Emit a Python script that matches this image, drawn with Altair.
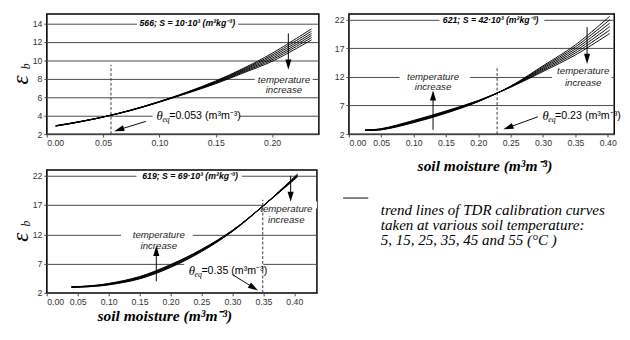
import math
import altair as alt
import pandas as pd

TEMPS = [5, 15, 25, 35, 45, 55]

# ---- panel 566 ----
x566 = [0.008, 0.025, 0.05, 0.075, 0.10, 0.125, 0.15, 0.175, 0.20, 0.235]
e566 = [
    [2.87, 3.22, 3.85, 4.62, 5.53, 6.57, 7.76, 9.15, 10.75, 13.40],
    [2.88, 3.23, 3.85, 4.61, 5.52, 6.55, 7.70, 9.05, 10.57, 13.15],
    [2.89, 3.24, 3.85, 4.60, 5.51, 6.52, 7.64, 8.95, 10.40, 12.90],
    [2.90, 3.25, 3.85, 4.59, 5.49, 6.49, 7.58, 8.85, 10.22, 12.68],
    [2.91, 3.26, 3.85, 4.58, 5.48, 6.46, 7.52, 8.75, 10.05, 12.45],
    [2.92, 3.27, 3.85, 4.57, 5.46, 6.43, 7.46, 8.65, 9.88, 12.20],
]

# ---- panel 621 ----
x621 = [0.025, 0.05, 0.10, 0.15, 0.20, 0.25, 0.30, 0.35, 0.403]
e621 = [
    [2.68, 2.75, 4.00, 5.65, 7.68, 10.40, 13.95, 17.60, 22.6],
    [2.69, 2.79, 4.08, 5.73, 7.72, 10.36, 13.75, 17.25, 22.0],
    [2.70, 2.83, 4.16, 5.81, 7.76, 10.32, 13.55, 16.90, 21.4],
    [2.70, 2.87, 4.24, 5.89, 7.80, 10.28, 13.35, 16.55, 20.8],
    [2.71, 2.91, 4.32, 5.97, 7.84, 10.24, 13.15, 16.20, 20.2],
    [2.72, 2.95, 4.40, 6.05, 7.88, 10.20, 12.95, 15.85, 19.6],
]

# ---- panel 619 ----
x619 = [0.04, 0.07, 0.10, 0.15, 0.20, 0.25, 0.30, 0.35, 0.405]
e619 = [
    [2.97, 3.07, 3.38, 4.40, 6.35, 9.05, 12.50, 16.90, 22.30],
    [2.98, 3.10, 3.43, 4.48, 6.45, 9.13, 12.54, 16.90, 22.20],
    [2.99, 3.13, 3.48, 4.56, 6.55, 9.21, 12.58, 16.90, 22.10],
    [3.01, 3.17, 3.52, 4.64, 6.65, 9.29, 12.62, 16.90, 22.00],
    [3.02, 3.20, 3.57, 4.72, 6.75, 9.37, 12.66, 16.90, 21.90],
    [3.03, 3.23, 3.62, 4.80, 6.85, 9.45, 12.70, 16.90, 21.80],
]

yticks566 = [2, 4, 6, 8, 10, 12, 14]
yticks62x = [2, 7, 12, 17, 22]
xticks566 = [0.00, 0.05, 0.10, 0.15, 0.20]
xticks62x = [0.00, 0.05, 0.10, 0.15, 0.20, 0.25, 0.30, 0.35, 0.40]

SUP = "(m\u00b3m\u207b\u00b3)"
XTITLE = "soil moisture " + SUP

ann566 = dict(
    label=("566; S = 10\u00b710\u00b3 (m\u00b2kg\u207b\u00b3)", 0.1247, 14.0),
    boxes=[(0.080, 0.170, 13.45, 14.55), (0.1845, 0.236, 7.4, 8.6), (0.094, 0.171, 3.3, 4.6)],
    temps=[(0.2105, 7.87, 6.8)],
    varrows=[(0.2144, 12.9, 9.0)],
    theq=("=0.053 " + SUP, 0.0975, 3.9),
    darrow=(0.088, 3.38, 0.060, 2.33),
    dashed=(0.057, 2.0, 9.5),
)
ann621 = dict(
    label=("621; S = 42\u00b710\u00b3 (m\u00b2kg\u207b\u00b3)", 0.219, 22.0),
    boxes=[(0.140, 0.302, 21.3, 22.7), (0.078, 0.187, 11.3, 12.7), (0.314, 0.406, 11.3, 12.7)],
    temps=[(0.130, 12.0, 10.2), (0.362, 12.96, 11.0)],
    varrows=[(0.130, 2.75, 9.6), (0.368, 20.7, 14.3)],
    theq=("=0.23 " + SUP, 0.299, 5.07),
    darrow=(0.292, 5.03, 0.239, 2.85),
    dashed=(0.229, 2.0, 13.9),
)
ann619 = dict(
    label=("619; S = 69\u00b710\u00b3 (m\u00b2kg\u207b\u00b3)", 0.2315, 22.0),
    boxes=[(0.145, 0.315, 21.3, 22.7), (0.120, 0.236, 11.3, 12.7), (0.351, 0.4365, 16.4, 17.6),
           (0.222, 0.350, 4.9, 7.6)],
    temps=[(0.181, 11.9, 10.0), (0.387, 16.3, 14.4)],
    varrows=[(0.177, 4.0, 10.0), (0.394, 22.0, 17.6)],
    theq=("=0.35 " + SUP, 0.2295, 5.74),
    darrow=(0.300, 5.13, 0.341, 2.45),
    dashed=(0.349, 2.0, 17.9),
)

LEGEND_LINES = [
    "trend lines of TDR calibration curves",
    "taken at various soil temperature:",
    "5, 15, 25, 35, 45 and 55 (\u00b0C )",
]

SANS = "Liberation Sans"
SERIF = "Liberation Serif"
HEAD = "M0,-1L0.6,1L-0.6,1Z"


def panel(xs, curves, xdom, ydom, xticks, yticks, w, h, ann, xtitle=None, ytitle=True, legend=False):
    sx = w / (xdom[1] - xdom[0])
    sy = h / (ydom[1] - ydom[0])
    axis_kw = dict(labelFont=SANS, labelFontSize=9, labelColor="#333", tickSize=3,
                   tickColor="#444", domainColor="#444", labelPadding=2)
    if xtitle:
        xaxis = alt.Axis(values=xticks, format=".2f", grid=False, title=xtitle[0],
                         titleFont=SERIF, titleFontSize=16, titleFontStyle="italic",
                         titleFontWeight="bold", titleColor="black", titleX=xtitle[1],
                         titleY=xtitle[2], titleBaseline="middle", titleAlign="center",
                         **axis_kw)
    else:
        xaxis = alt.Axis(values=xticks, format=".2f", grid=False, title=None, **axis_kw)
    yaxis = alt.Axis(values=yticks, format="d", grid=True, gridColor="#444", gridWidth=1,
                     title=None, **axis_kw)
    X = alt.X("x:Q", scale=alt.Scale(domain=xdom, nice=False, zero=False), axis=xaxis)
    Y = alt.Y("y:Q", scale=alt.Scale(domain=ydom, nice=False, zero=False), axis=yaxis)

    rows = []
    for t, ys in zip(TEMPS, curves):
        for xv, yv in zip(xs, ys):
            rows.append({"x": xv, "y": yv, "T": t})
    curve_df = pd.DataFrame(rows)

    layers = []
    boxes = pd.DataFrame([{"x": a, "x2": b, "y": c, "y2": d} for a, b, c, d in ann["boxes"]])
    layers.append(alt.Chart(boxes).mark_rect(color="white").encode(
        x=X, x2="x2:Q", y=Y, y2="y2:Q"))
    dx, dy0, dy1 = ann["dashed"]
    layers.append(alt.Chart(pd.DataFrame([{"x": dx, "y": dy0, "y2": dy1}])).mark_rule(
        color="#333", strokeDash=[3, 2], strokeWidth=1).encode(x=X, y=Y, y2="y2:Q"))
    layers.append(alt.Chart(curve_df).mark_line(color="black", strokeWidth=1,
                                                interpolate="catmull-rom").encode(
        x=X, y=Y, detail="T:N"))

    # arrows
    shafts, heads = [], []
    arrows = [(a, b, a, c) for a, b, c in ann["varrows"]] + [ann["darrow"]]
    for x1, y1, x2, y2 in arrows:
        pdx = (x2 - x1) * sx
        pdy = -(y2 - y1) * sy
        n = math.hypot(pdx, pdy)
        ux, uy = pdx / n, pdy / n
        hx = x2 - 5 * ux / sx
        hy = y2 + 5 * uy / sy
        ang = math.degrees(math.atan2(pdx, -pdy)) % 360
        shafts.append({"x": x1, "y": y1, "x2": hx, "y2": hy})
        heads.append({"x": hx, "y": hy, "ang": ang})
    layers.append(alt.Chart(pd.DataFrame(shafts)).mark_rule(color="black", strokeWidth=1).encode(
        x=X, y=Y, x2="x2:Q", y2="y2:Q"))
    layers.append(alt.Chart(pd.DataFrame(heads)).mark_point(
        shape=HEAD, filled=True, color="black", size=110, opacity=1).encode(
        x=X, y=Y, angle=alt.Angle("ang:Q", scale=None)))

    # label
    lt, lx, ly = ann["label"]
    layers.append(alt.Chart(pd.DataFrame([{"x": lx, "y": ly, "t": lt}])).mark_text(
        font=SANS, fontSize=9, fontStyle="italic", fontWeight="bold", color="black",
        align="center", baseline="middle").encode(x=X, y=Y, text="t:N"))
    # temperature increase
    trows = []
    for tx, y1, y2 in ann["temps"]:
        trows.append({"x": tx, "y": y1, "t": "temperature"})
        trows.append({"x": tx, "y": y2, "t": "increase"})
    layers.append(alt.Chart(pd.DataFrame(trows)).mark_text(
        font=SANS, fontSize=10, fontStyle="italic", color="#222",
        align="center", baseline="middle").encode(x=X, y=Y, text="t:N"))
    # theta eq
    qt, qx, qy = ann["theq"]
    qdf = pd.DataFrame([{"x": qx, "y": qy}])
    layers.append(alt.Chart(qdf).mark_text(text="\u03b8", font=SERIF, fontSize=13,
                                           fontStyle="italic", align="left",
                                           baseline="middle", color="black").encode(x=X, y=Y))
    layers.append(alt.Chart(qdf).mark_text(text="eq", font=SERIF, fontSize=8,
                                           fontStyle="italic", align="left", dx=6, dy=4,
                                           baseline="middle", color="black").encode(x=X, y=Y))
    layers.append(alt.Chart(qdf).mark_text(text=qt, font=SANS, fontSize=11,
                                           align="left", dx=13,
                                           baseline="middle", color="black").encode(x=X, y=Y))
    if ytitle:
        layers.append(alt.Chart(qdf).mark_text(text="\u03b5", font=SERIF, fontSize=24,
                                               fontStyle="italic", angle=270, align="center",
                                               baseline="middle", color="black").encode(
            x=alt.value(-26), y=alt.value(h / 2 + 6)))
        layers.append(alt.Chart(qdf).mark_text(text="b", font=SERIF, fontSize=12,
                                               fontStyle="italic", angle=270, align="center",
                                               baseline="middle", color="black").encode(
            x=alt.value(-21), y=alt.value(h / 2 - 8)))
    if legend:
        layers.append(alt.Chart(qdf).mark_rule(color="black", strokeWidth=1).encode(
            x=alt.value(306), x2=alt.value(332), y=alt.value(29)))
        for i, s in enumerate(LEGEND_LINES):
            layers.append(alt.Chart(qdf).mark_text(text=s, font=SERIF, fontSize=15.5,
                                                   fontStyle="italic", align="left",
                                                   baseline="middle", color="black").encode(
                x=alt.value(345), y=alt.value(41 + 15.5 * i)))
    return alt.layer(*layers).properties(width=w, height=h)


p1 = panel(x566, e566, [0, 0.2415], [2, 15], xticks566, yticks566, 281, 124, ann566)
p2 = panel(x621, e621, [0, 0.41], [2, 23], xticks62x, yticks62x, 274, 124, ann621,
           xtitle=(XTITLE, 140, 33), ytitle=False)
p3 = panel(x619, e619, [0, 0.4365], [2, 23], xticks62x, yticks62x, 279, 127, ann619,
           xtitle=(XTITLE, 121.5, 23), ytitle=True, legend=True)

chart = alt.concat(p1, p2, p3, columns=2, bounds="flush", align="each",
                   spacing={"row": 37, "column": 31}).properties(
    padding={"left": 1, "top": 0, "right": 0, "bottom": 0}
).configure_view(stroke="black", strokeWidth=1.5)

chart.save("out.html", embed_options={"renderer": "svg", "actions": False})
